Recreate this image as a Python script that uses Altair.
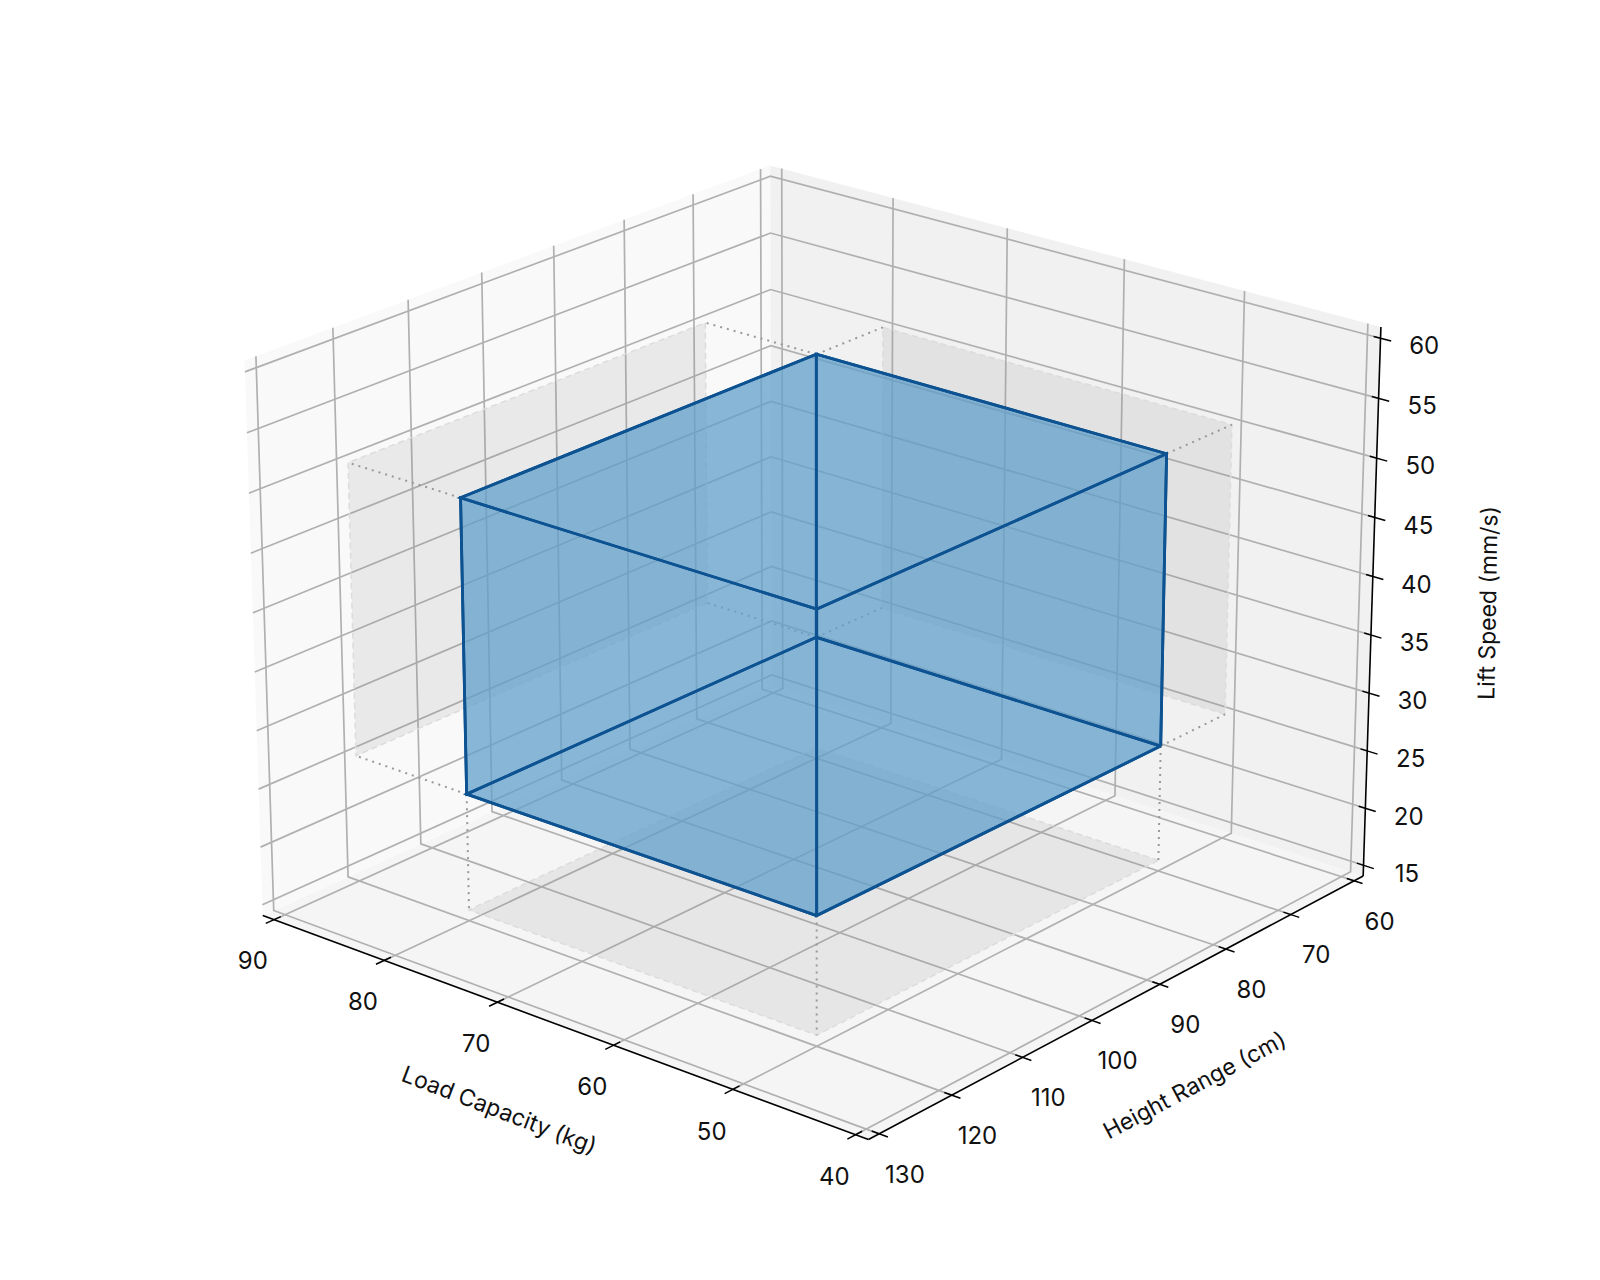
import numpy as np
import pandas as pd
import altair as alt

X_TICKS = [40, 50, 60, 70, 80, 90]
Y_TICKS = [60, 70, 80, 90, 100, 110, 120, 130]
Z_TICKS = [15, 20, 25, 30, 35, 40, 45, 50, 55, 60]
BOX_X = [50, 80]
BOX_Y = [70, 120]
BOX_Z = [25, 50]
X_TITLE = "Load Capacity (kg)"
Y_TITLE = "Height Range (cm)"
Z_TITLE = "Lift Speed (mm/s)"

ELEV, AZIM, DIST = 22.0, 130.0, 10.0
SCALE, CX, CY = 6944.0, 816.5, 624.0
FONT = "Inter"

xl, xh = X_TICKS[0], X_TICKS[-1]
yl, yh = Y_TICKS[0], Y_TICKS[-1]
zl, zh = Z_TICKS[0], Z_TICKS[-1]
xa, xb = xl - (xh - xl) / 48, xh + (xh - xl) / 48
ya, yb = yl - (yh - yl) / 48, yh + (yh - yl) / 48
za, zb = zl - (zh - zl) / 48, zh + (zh - zl) / 48
BOXA = np.array([4, 4, 3]) * 1.8294640721620434 / np.linalg.norm([4, 4, 3])
e, a = np.radians(ELEV), np.radians(AZIM)
W = np.array([np.cos(e) * np.cos(a), np.cos(e) * np.sin(a), np.sin(e)])
U = np.cross([0, 0, 1.0], W); U /= np.linalg.norm(U)
V = np.cross(W, U)


def proj(x, y, z):
    p = (np.array([(x - xa) / (xb - xa), (y - ya) / (yb - ya), (z - za) / (zb - za)]) - 0.5) * BOXA
    d = DIST - p @ W
    return CX + SCALE * (p @ U) / d, CY - SCALE * (p @ V) / d


XS = alt.Scale(domain=[8, 1568], nice=False, zero=False)
YS = alt.Scale(domain=[1248, 8], nice=False, zero=False)
ENC = dict(x=alt.X("x:Q", scale=XS, axis=None), y=alt.Y("y:Q", scale=YS, axis=None))


def polygon(verts, fill, opacity=1.0):
    pts = [proj(*v) for v in verts]
    rows = []
    xs = sorted({round(p[0], 3) for p in pts})
    for gx in xs:
        ys = []
        for i in range(len(pts)):
            p, q = pts[i], pts[(i + 1) % len(pts)]
            lo, hi = min(p[0], q[0]), max(p[0], q[0])
            if lo - 0.001 <= gx <= hi + 0.001:
                if abs(q[0] - p[0]) < 0.01:
                    ys += [p[1], q[1]]
                else:
                    t = min(1.0, max(0.0, (gx - p[0]) / (q[0] - p[0])))
                    ys.append(p[1] + t * (q[1] - p[1]))
        rows.append({"x": gx, "y": min(ys), "y2": max(ys)})
    return alt.Chart(pd.DataFrame(rows)).mark_area(orient="vertical", color=fill, opacity=opacity, interpolate="linear").encode(
        x=ENC["x"], y=ENC["y"], y2="y2:Q")


def lines(paths, **style):
    rows = []
    for k, path in enumerate(paths):
        for i, v in enumerate(path):
            sx, sy = proj(*v)
            rows.append({"k": k, "i": i, "x": sx, "y": sy})
    return alt.Chart(pd.DataFrame(rows)).mark_line(**style).encode(
        x=ENC["x"], y=ENC["y"], detail="k:N", order="i:Q")


def texts(rows, size, angle=0, color="#111111"):
    return alt.Chart(pd.DataFrame(rows)).mark_text(font=FONT, fontSize=size, angle=angle, color=color,
                                                  align="center", baseline="middle").encode(
        x=ENC["x"], y=ENC["y"], text="t:N")


layers = []
# panes
layers.append(polygon([(xa, ya, za), (xb, ya, za), (xb, yb, za), (xa, yb, za)], "#f5f5f5"))
layers.append(polygon([(xb, ya, za), (xb, yb, za), (xb, yb, zb), (xb, ya, zb)], "#f9f9f9"))
layers.append(polygon([(xa, ya, za), (xb, ya, za), (xb, ya, zb), (xa, ya, zb)], "#f1f1f1"))
# gridlines
grid = []
grid += [[(v, yb, za), (v, ya, za), (v, ya, zb)] for v in X_TICKS]
grid += [[(xa, v, za), (xb, v, za), (xb, v, zb)] for v in Y_TICKS]
grid += [[(xb, yb, v), (xb, ya, v), (xa, ya, v)] for v in Z_TICKS]
layers.append(lines(grid, color="#b0b0b0", strokeWidth=1.7))
# shadows
bxl, bxh = BOX_X; byl, byh = BOX_Y; bzl, bzh = BOX_Z
shadow_polys = [
    [(bxl, byl, zl), (bxh, byl, zl), (bxh, byh, zl), (bxl, byh, zl)],
    [(xh, byl, bzl), (xh, byh, bzl), (xh, byh, bzh), (xh, byl, bzh)],
    [(bxl, yl, bzl), (bxh, yl, bzl), (bxh, yl, bzh), (bxl, yl, bzh)],
]
for s in shadow_polys:
    layers.append(polygon(s, "#808080", 0.13))
layers.append(lines([s + s[:1] for s in shadow_polys], color="#dcdcdc", strokeWidth=1.5, strokeDash=[6, 4]))
# dotted projection lines
dots = []
for bx in BOX_X:
    for by in BOX_Y:
        dots.append([(bx, by, bzl), (bx, by, zl)])
for by in BOX_Y:
    for bz in BOX_Z:
        dots.append([(bxh, by, bz), (xh, by, bz)])
for bx in BOX_X:
    for bz in BOX_Z:
        dots.append([(bx, byl, bz), (bx, yl, bz)])
layers.append(lines(dots, color="#999999", strokeWidth=2, strokeDash=[2, 5]))
# axes and ticks
axes = [[(xa, yb, za), (xb, yb, za)], [(xa, ya, za), (xa, yb, za)], [(xa, ya, za), (xa, ya, zb)]]
ticks = [[(v, yb - 0.9, za), (v, yb + 1.1, za)] for v in X_TICKS]
ticks += [[(xa + 0.6, v, za), (xa - 0.7, v, za)] for v in Y_TICKS]
ticks += [[(xa + 0.55, ya, v), (xa - 0.85, ya, v)] for v in Z_TICKS]
layers.append(lines(axes, color="#000000", strokeWidth=1.6))
layers.append(lines(ticks, color="#000000", strokeWidth=1.5))
# box faces
faces = [
    [(bxl, byl, bzl), (bxh, byl, bzl), (bxh, byh, bzl), (bxl, byh, bzl)],
    [(bxl, byl, bzh), (bxh, byl, bzh), (bxh, byh, bzh), (bxl, byh, bzh)],
    [(bxl, byl, bzl), (bxh, byl, bzl), (bxh, byl, bzh), (bxl, byl, bzh)],
    [(bxl, byh, bzl), (bxh, byh, bzl), (bxh, byh, bzh), (bxl, byh, bzh)],
    [(bxl, byl, bzl), (bxl, byh, bzl), (bxl, byh, bzh), (bxl, byl, bzh)],
    [(bxh, byl, bzl), (bxh, byh, bzl), (bxh, byh, bzh), (bxh, byl, bzh)],
]
for f in faces:
    layers.append(polygon(f, "#62a0cc", 0.5))
edges = [f + f[:1] for f in faces]
layers.append(lines(edges, color="#0d5291", strokeWidth=2.8))
# tick labels
lab = []
for v in X_TICKS:
    sx, sy = proj(v, yb + 1.1, za)
    lab.append({"x": sx - 13, "y": sy + 39, "t": str(v)})
for v in Y_TICKS:
    sx, sy = proj(xa - 0.7, v, za)
    lab.append({"x": sx + 17, "y": sy + 39, "t": str(v)})
for v in Z_TICKS:
    sx, sy = proj(xa - 0.85, ya, v)
    lab.append({"x": sx + 33, "y": sy + 6, "t": str(v)})
layers.append(texts(lab, 24))
layers.append(texts([{"x": 499, "y": 1111, "t": X_TITLE}], 23, 21))
layers.append(texts([{"x": 1195, "y": 1086, "t": Y_TITLE}], 23, 332))
layers.append(texts([{"x": 1489, "y": 603, "t": Z_TITLE}], 23, 271))

chart = alt.layer(*layers).properties(width=1560, height=1240, padding=0,
                                      autosize=alt.AutoSizeParams(type="none")).configure_view(stroke=None)
chart.save("out.html", embed_options={"renderer": "svg", "actions": False})
